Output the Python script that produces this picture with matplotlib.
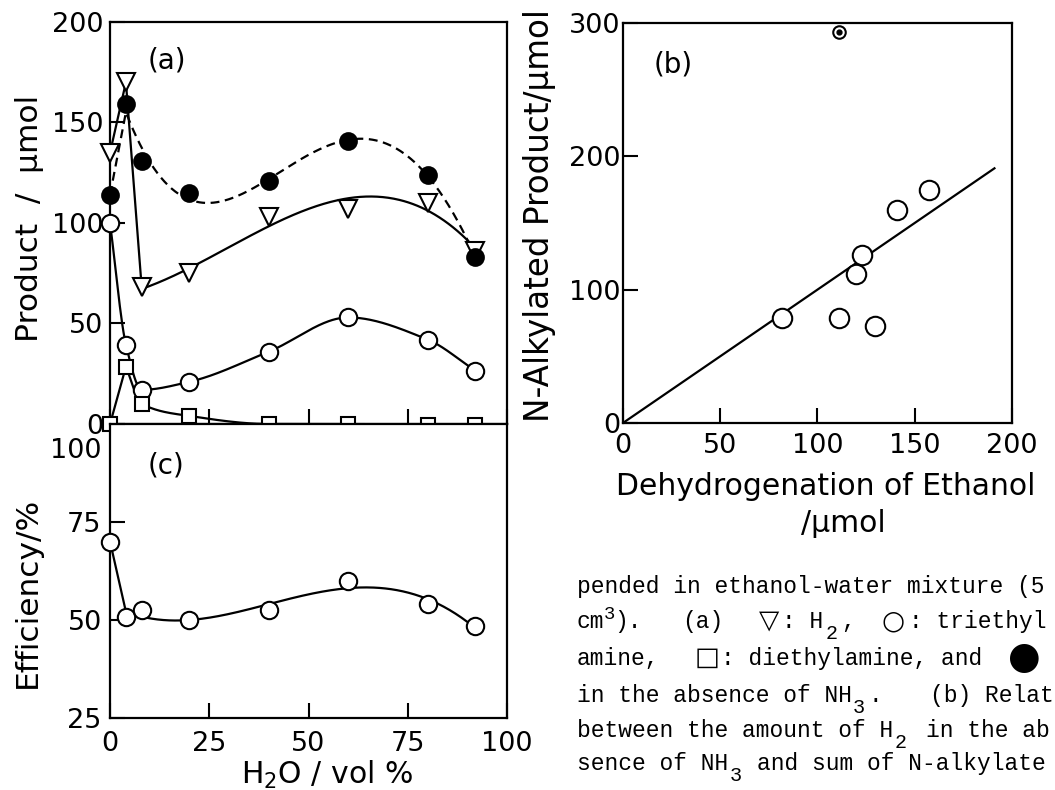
import numpy as np
import matplotlib as mpl
mpl.use('Agg')
import matplotlib.pyplot as plt
import matplotlib.transforms as mtrans

# (a) and (c): water content of the ethanol-water mixture
water = [0, 4, 8, 20, 40, 60, 80, 92]
h2 = [135, 170, 68, 75, 103, 107, 110, 86]
triethylamine = [100, 39.5, 17, 21, 36, 53, 42, 26.5]
diethylamine = [0, 28.5, 10, 4, 0, 0, -0.5, -0.5]
h2_no_nh3 = [114, 159, 131, 115, 121, 141, 124, 83]
efficiency = [70, 50.8, 52.6, 50, 52.6, 60, 54, 48.4]

# (b): N-alkylated product vs dehydrogenation of ethanol
dehydro = [81.6, 111, 120, 123, 129.6, 141, 157.5]
alkylated = [78.6, 78.6, 112, 126, 73, 160, 175]
outlier_x = [111]
outlier_y = [293]
fit_x = [0, 191]
fit_y = [0, 191]


def pchip(x, y, n=300):
  # monotone cubic (no overshoot)
  x = np.asarray(x, float)
  y = np.asarray(y, float)
  h = np.diff(x)
  d = np.diff(y)/h
  m = np.zeros(len(x))
  for i in range(1, len(x)-1):
    if d[i-1]*d[i] > 0:
      w1 = 2*h[i] + h[i-1]
      w2 = h[i] + 2*h[i-1]
      m[i] = (w1+w2)/(w1/d[i-1] + w2/d[i])
  m[0] = d[0]
  m[-1] = d[-1]
  xs = np.linspace(x[0], x[-1], n)
  k = np.clip(np.searchsorted(x, xs)-1, 0, len(x)-2)
  t = (xs - x[k])/h[k]
  ys = ((2*t**3 - 3*t**2 + 1)*y[k] + (t**3 - 2*t**2 + t)*h[k]*m[k]
        + (-2*t**3 + 3*t**2)*y[k+1] + (t**3 - t**2)*h[k]*m[k+1])
  return xs, ys


def polyfit(deg):
  # least-squares smooth curve, like a hand-drawn fit
  def f(x, y, n=300):
    c = np.polyfit(x, y, deg)
    xs = np.linspace(x[0], x[-1], n)
    return xs, np.polyval(c, xs)
  return f


def trace(x, y, k, smooth):
  # straight segments up to point k, smooth curve afterwards
  xs, ys = smooth(x[k:], y[k:])
  return list(x[:k]) + list(xs), list(y[:k]) + list(ys)


mpl.rcParams.update({'font.family': 'DejaVu Sans', 'font.size': 19.5,
                     'axes.linewidth': 1.6})

W, H = 1055, 790
fig = plt.figure(figsize=(W/100, H/100), dpi=100)
ax_a = fig.add_axes([0.1043, 0.4633, 0.3763, 0.5089])
ax_c = fig.add_axes([0.1043, 0.0911, 0.3763, 0.3722])
ax_b = fig.add_axes([0.5905, 0.4646, 0.3687, 0.5063])

lw = 1.6
mk = dict(mec='black', mew=1.5, ls='none', clip_on=False, zorder=3)

# (a)
ax_a.plot(*trace(water, h2, 2, polyfit(3)), color='black', lw=lw)
ax_a.plot(*trace(water, triethylamine, 0, pchip), color='black', lw=lw)
ax_a.plot(*trace(water, diethylamine, 1, pchip), color='black', lw=lw)
ax_a.plot(*trace(water, h2_no_nh3, 1, polyfit(4)), color='black', lw=lw, ls=(0, (4, 2.5)))
ax_a.plot(water, h2, marker='v', ms=12.5, mfc='white', **mk)
ax_a.plot(water, triethylamine, marker='o', ms=12.5, mfc='white', **mk)
ax_a.plot(water, diethylamine, marker='s', ms=10, mfc='white', **mk)
ax_a.plot(water, h2_no_nh3, marker='o', ms=12, mfc='black', **mk)
ax_a.set_xlim(0, 100)
ax_a.set_ylim(0, 200)
ax_a.set_xticks([0, 25, 50, 75, 100])
ax_a.set_yticks([0, 50, 100, 150, 200])
ax_a.tick_params(labelbottom=False)
ax_a.text(0.095, 0.885, '(a)', transform=ax_a.transAxes, fontsize=20)

# (c)
ax_c.plot(*trace(water, efficiency, 1, polyfit(4)), color='black', lw=lw)
ax_c.plot(water, efficiency, marker='o', ms=12.5, mfc='white', **mk)
ax_c.set_xlim(0, 100)
ax_c.set_ylim(25, 100)
ax_c.set_xticks([0, 25, 50, 75, 100])
ax_c.set_yticks([25, 50, 75, 100])
ax_c.text(0.095, 0.83, '(c)', transform=ax_c.transAxes, fontsize=20)

# (b)
ax_b.plot(fit_x, fit_y, color='black', lw=lw)
ax_b.plot(dehydro, alkylated, marker='o', ms=14, mfc='white', **mk)
ax_b.plot(outlier_x, outlier_y, marker='o', ms=9, mfc='white', **mk)
ax_b.plot(outlier_x, outlier_y, marker='o', ms=3.5, mfc='black', mec='black', ls='none', zorder=4)
ax_b.set_xlim(0, 200)
ax_b.set_ylim(0, 300)
ax_b.set_xticks([0, 50, 100, 150, 200])
ax_b.set_yticks([0, 100, 200, 300])
ax_b.text(0.08, 0.875, '(b)', transform=ax_b.transAxes, fontsize=20)

for ax in (ax_a, ax_b, ax_c):
  ax.tick_params(direction='in', length=11, width=1.5, top=False, right=False)
ax_a.tick_params(axis='y', pad=5)
ax_c.tick_params(axis='y', pad=6)
ax_c.tick_params(axis='x', pad=9)
ax_b.tick_params(axis='y', pad=2)
ax_b.tick_params(axis='x', pad=7)

# the "100" of (c) sits a bit below its tick in the original
fig.canvas.draw()
lab = ax_c.get_yticklabels()[-1]
lab.set_transform(lab.get_transform() + mtrans.ScaledTranslation(0, -0.24, fig.dpi_scale_trans))

# axis titles
fig.text(30/W, 1-218/H, 'Product  /  μmol', rotation=90, ha='center', va='center', fontsize=22.5)
fig.text(27/W, 1-592/H, 'Efficiency/%', rotation=90, ha='center', va='center', fontsize=22.5)
fig.text(327/W, 1-775/H, 'H$\\mathregular{_2}$O / vol %', ha='center', va='center', fontsize=21.5)
fig.text(540/W, 1-216/H, 'N-Alkylated Product/μmol', rotation=90, ha='center', va='center', fontsize=23.5)
fig.text(826/W, 1-487/H, 'Dehydrogenation of Ethanol', ha='center', va='center', fontsize=21.5)
fig.text(843/W, 1-523/H, '/μmol', ha='center', va='center', fontsize=21.5)

# caption fragment (cut at the page edge), monospaced on a character grid
x0, cw = 577, 13.67
caption = [
  (593, [(0, 'pended in ethanol-water mixture (5', 'n')]),
  (628, [(0, 'cm', 'n'), (2, '3', 'sup'), (2.7, ').', 'n'), (7.7, '(a)', 'n'), (13.3, '▽', 'sym'),
         (15.0, ': H', 'n'), (18.2, '2', 'sub'), (19.3, ',', 'n'), (22.3, '○', 'sym'),
         (24.3, ': triethyl', 'n')]),
  (665, [(0, 'amine,', 'n'), (8.6, '□', 'sym'), (10.5, ': diethylamine, and', 'n'), (31.5, '●', 'big')]),
  (702, [(0, 'in the absence of NH', 'n'), (20.2, '3', 'sub'), (21.3, '.', 'n'), (25.8, '(b) Relat', 'n')]),
  (737, [(0, 'between the amount of H', 'n'), (23.2, '2', 'sub'), (25.5, 'in the ab', 'n')]),
  (770, [(0, 'sence of NH', 'n'), (11.2, '3', 'sub'), (13.2, 'and sum of N-alkylate', 'n')]),
]
for ybase, parts in caption:
  for col, s, kind in parts:
    x = (x0 + col*cw)/W
    if kind == 'n':
      fig.text(x, 1-ybase/H, s, family='Liberation Mono', fontsize=16.5, va='baseline')
    elif kind == 'sub':
      fig.text(x, 1-(ybase+11)/H, s, family='Liberation Mono', fontsize=14.5, va='baseline')
    elif kind == 'sup':
      fig.text(x, 1-(ybase-9)/H, s, family='Liberation Mono', fontsize=13.5, va='baseline')
    elif kind == 'sym':
      fig.text(x, 1-ybase/H, s, family='DejaVu Sans', fontsize=19, va='baseline')
    else:
      fig.text(x, 1-(ybase+3)/H, s, family='DejaVu Sans', fontsize=27, va='baseline')

fig.savefig('out.png', dpi=100)
